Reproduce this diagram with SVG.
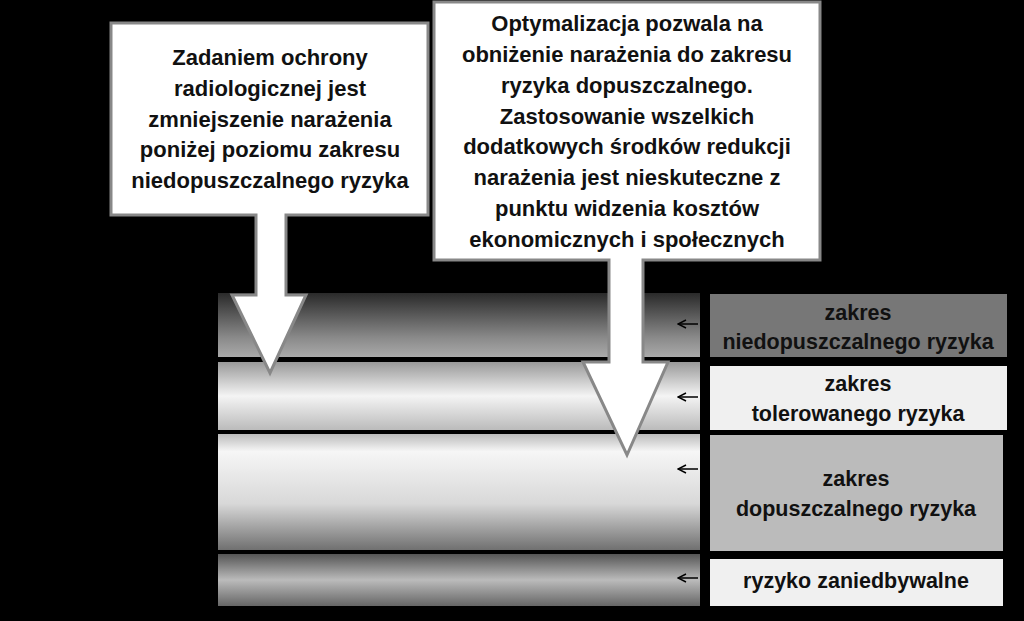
<svg xmlns="http://www.w3.org/2000/svg" width="1024" height="621" viewBox="0 0 1024 621">
<style>
.t{font-family:"Liberation Sans",Arial,sans-serif;font-weight:bold;font-size:21.5px;fill:#111;text-anchor:middle}
.c{font-size:22px}
.call{fill:#fff;stroke:#888;stroke-width:3}
.ar{stroke:#000;stroke-width:1.5;fill:none}
</style>
<defs>
<linearGradient id="g1" x1="0" y1="0" x2="0" y2="1"><stop offset="0" stop-color="#2a2a2a"/><stop offset="0.7" stop-color="#8a8a8a"/><stop offset="1" stop-color="#aaa"/></linearGradient>
<linearGradient id="g2" x1="0" y1="0" x2="0" y2="1"><stop offset="0" stop-color="#999"/><stop offset="0.5" stop-color="#f4f4f4"/><stop offset="1" stop-color="#bbb"/></linearGradient>
<linearGradient id="g3" x1="0" y1="0" x2="0" y2="1"><stop offset="0" stop-color="#bbb"/><stop offset="0.15" stop-color="#f6f6f6"/><stop offset="0.6" stop-color="#d8d8d8"/><stop offset="1" stop-color="#707070"/></linearGradient>
<linearGradient id="g4" x1="0" y1="0" x2="0" y2="1"><stop offset="0" stop-color="#555"/><stop offset="0.5" stop-color="#bbb"/><stop offset="1" stop-color="#666"/></linearGradient>
<marker id="m" markerWidth="10" markerHeight="10" refX="9" refY="5" orient="auto" markerUnits="userSpaceOnUse"><path d="M1,1 L9,5 L1,9" fill="none" stroke="#000" stroke-width="1.5"/></marker>
</defs>
<rect width="1024" height="621" fill="#000"/>
<g id="bands">
<rect x="218" y="293" width="482" height="64" fill="url(#g1)"/>
<rect x="218" y="362" width="482" height="68" fill="url(#g2)"/>
<rect x="218" y="434" width="482" height="116" fill="url(#g3)"/>
<rect x="218" y="554" width="482" height="52" fill="url(#g4)"/>
</g>
<g id="connectors">
<line class="ar" x1="698" y1="324" x2="678" y2="324" marker-end="url(#m)"/>
<line class="ar" x1="698" y1="397" x2="678" y2="397" marker-end="url(#m)"/>
<line class="ar" x1="698" y1="469" x2="678" y2="469" marker-end="url(#m)"/>
<line class="ar" x1="698" y1="578" x2="678" y2="578" marker-end="url(#m)"/>
</g>
<g id="callout1">
<path class="call" d="M111,23 H428 V215 H286 V295 H306 L270,373 L232,295 H256 V215 H111 Z"/>
<text class="t c" x="270" y="65">Zadaniem ochrony</text>
<text class="t c" x="270" y="96">radiologicznej jest</text>
<text class="t c" x="270" y="127">zmniejszenie narażenia</text>
<text class="t c" x="270" y="157">poniżej poziomu zakresu</text>
<text class="t c" x="270" y="188">niedopuszczalnego ryzyka</text>
</g>
<g id="callout2">
<path class="call" d="M434,2 H820 V260 H643 V362 H668 L627,455 L583,362 H609 V260 H434 Z"/>
<text class="t c" x="627" y="31">Optymalizacja  pozwala na</text>
<text class="t c" x="627" y="62">obniżenie narażenia  do zakresu</text>
<text class="t c" x="627" y="93">ryzyka dopuszczalnego.</text>
<text class="t c" x="627" y="124">Zastosowanie wszelkich</text>
<text class="t c" x="627" y="154">dodatkowych środków redukcji</text>
<text class="t c" x="627" y="185">narażenia jest nieskuteczne z</text>
<text class="t c" x="627" y="216">punktu widzenia kosztów</text>
<text class="t c" x="627" y="247">ekonomicznych i społecznych</text>
</g>
<g id="label1"><rect x="710" y="294" width="297" height="63" fill="#777"/>
<text class="t" x="858" y="320">zakres</text><text class="t" x="858" y="349">niedopuszczalnego ryzyka</text></g>
<g id="label2"><rect x="710" y="366" width="297" height="64" fill="#f0f0f0"/>
<text class="t" x="858" y="391">zakres</text><text class="t" x="858" y="421">tolerowanego ryzyka</text></g>
<g id="label3"><rect x="710" y="435" width="293" height="116" fill="#bbb"/>
<text class="t" x="856" y="486">zakres</text><text class="t" x="856" y="516">dopuszczalnego ryzyka</text></g>
<g id="label4"><rect x="710" y="559" width="293" height="47" fill="#f0f0f0"/>
<text class="t" x="856" y="588">ryzyko zaniedbywalne</text></g>
</svg>
